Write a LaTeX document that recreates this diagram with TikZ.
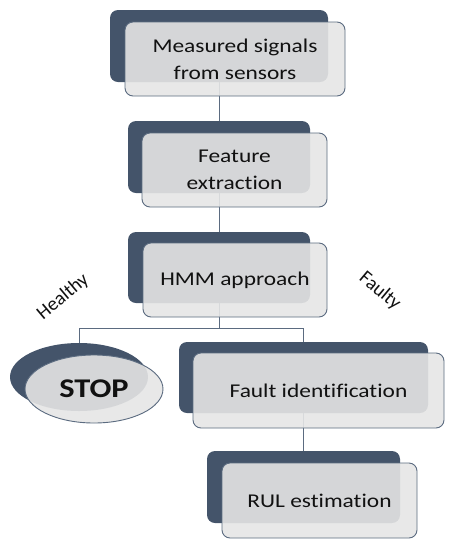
\documentclass[tikz,border=0pt]{standalone}
\usepackage{fontspec}
\setmainfont{Carlito}[RawFeature=-liga]
\newfontfamily\wcal[FakeStretch=1.2,RawFeature=-liga]{Carlito}
\usepackage{tikz}
\usetikzlibrary{positioning,calc,shapes.geometric}
\usepackage{xcolor}
\definecolor{fslate}{HTML}{44546A}
\definecolor{fpane}{HTML}{E5E5E5}
\definecolor{fedge}{HTML}{5B6B80}
\definecolor{fink}{HTML}{111111}

\begin{document}
\begin{tikzpicture}[x=1pt, y=-1pt,
  back/.style={fill=fslate, draw=none, rounded corners=8pt, inner sep=0pt},
  front/.style={fill=fpane, fill opacity=0.9, draw=fedge, line width=0.9pt,
    rounded corners=8pt, text opacity=1, text=fink, align=center, inner sep=0pt,
    font=\wcal\fontsize{19.5}{27}\selectfont},
  link/.style={draw=fedge, line width=1pt},
  tag/.style={text=fink, font=\fontsize{19.5}{22}\selectfont}]
\useasboundingbox (0,0) rectangle (459,550);
% ---------------- back plates ----------------
\node[back, minimum width=218pt, minimum height=72pt] (d1) at (219,46) {};
\node[back, minimum width=182pt, minimum height=72pt] (d2) at (219,157) {};
\node[back, minimum width=182pt, minimum height=71pt] (d3) at (219,267.5) {};
\node[back, ellipse, minimum width=138pt, minimum height=68pt] (dstop) at (79,377) {};
\node[back, minimum width=249pt, minimum height=71pt] (dfault) at (303.5,377.5) {};
\node[back, minimum width=193pt, minimum height=72pt] (drul) at (303.5,487) {};
% ---------------- connectors ----------------
\draw[link] (d1.south) -- (d2.north);
\draw[link] (d2.south) -- (d3.north);
\draw[link] (d3.south) -- ++(0,25) coordinate (split) -| (dstop.north);
\draw[link] (split) -| (dfault.north);
\draw[link] (dfault.south) -- (drul.north);
% ---------------- front panes ----------------
\node[front, minimum width=220pt, minimum height=74pt] (f1) at ([shift={(16,13)}]d1.center)
  {Measured signals\\from sensors};
\node[front, minimum width=185pt, minimum height=74pt] (f2) at ([shift={(15.5,13)}]d2.center)
  {Feature\\extraction};
\node[front, minimum width=184pt, minimum height=74pt] (f3) at ([shift={(16,12.5)}]d3.center)
  {HMM approach};
\node[front, ellipse, minimum width=138pt, minimum height=68pt,
  font=\wcal\bfseries\fontsize{27}{30}\selectfont] (fstop) at ([shift={(15,12)}]dstop.center) {STOP};
\node[front, minimum width=251pt, minimum height=75pt] (ffault) at ([shift={(15,13)}]dfault.center)
  {Fault identification};
\node[front, minimum width=195pt, minimum height=75pt] (frul) at ([shift={(16,13.5)}]drul.center)
  {RUL estimation};
% ---------------- branch labels ----------------
\node[tag, rotate=40] (healthy) at (63,297) {Healthy};
\node[tag, rotate=-40] (faulty) at (380,291) {Faulty};
\end{tikzpicture}
\end{document}
